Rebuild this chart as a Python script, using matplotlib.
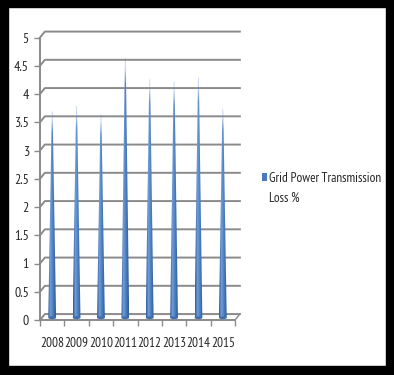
import numpy as np
import matplotlib
matplotlib.use("Agg")
import matplotlib.pyplot as plt
from matplotlib import font_manager
from matplotlib.patches import Polygon, Ellipse, Rectangle
from matplotlib.colors import to_rgb

# narrow humanist font, closest to the squeezed Calibri of the reference
available = set(f.name for f in font_manager.fontManager.ttflist)
font = 'DejaVu Sans'
for cand in ['PT Sans Narrow', 'Liberation Sans Narrow', 'Carlito', 'Liberation Sans']:
    if cand in available:
        font = cand
        break
plt.rcParams['font.family'] = [font, 'DejaVu Sans']

# Data
years = ['2008', '2009', '2010', '2011', '2012', '2013', '2014', '2015']
loss = [3.65, 3.75, 3.6, 4.6, 4.22, 4.18, 4.25, 3.7]
y_ticks = [0, 0.5, 1, 1.5, 2, 2.5, 3, 3.5, 4, 4.5, 5]
y_labels = ['0', '0.5', '1', '1.5', '2', '2.5', '3', '3.5', '4', '4.5', '5']
series_name = 'Grid Power Transmission\nLoss %'

grid_col = '#8a8a8a'
text_col = '#262626'
cone_col = '#4a7bbf'
fs = 9.5
# fake 3D depth, in data units
dx, dy = 0.2, 0.105

fig = plt.figure(figsize=(3.94, 3.75), dpi=100)
ax = fig.add_axes([40 / 394, 55 / 375, 195 / 394, 282.5 / 375])

n = len(years)
x = np.arange(n)

# back wall + side wall gridlines
for v in y_ticks:
    ax.plot([-0.5, -0.5 + dx, n - 0.5 + dx], [v, v + dy, v + dy],
            color=grid_col, lw=1.4, clip_on=False, zorder=1)
# floor right edge
ax.plot([n - 0.5, n - 0.5 + dx], [0, dy], color=grid_col, lw=1.0, clip_on=False, zorder=1)

# cone gradient (horizontal shading)
stops = [(0.0, '#2c5891'), (0.3, '#6f9fdc'), (0.55, '#5486c6'), (1.0, '#2d5a95')]
xs = np.linspace(0, 1, 40)
cols = np.array([[np.interp(t, [s[0] for s in stops], [to_rgb(s[1])[k] for s in stops])
                  for k in range(3)] for t in xs])

w = 0.32
tip = 0.035
base = 0.04
for xi, v in zip(x, loss):
    ys = np.linspace(0, 1, 120)
    alpha = np.clip((1 - ys) / 0.1, 0.35, 1.0)
    img = np.zeros((len(ys), len(xs), 4))
    img[:, :, :3] = cols[None, :, :]
    img[:, :, 3] = alpha[:, None]
    cone = Polygon([[xi - w / 2, base], [xi + w / 2, base],
                    [xi + tip / 2, base + v], [xi - tip / 2, base + v]],
                   closed=True, transform=ax.transData)
    im = ax.imshow(img, extent=(xi - w / 2, xi + w / 2, base, base + v),
                   origin='lower', aspect='auto', interpolation='bilinear', zorder=3)
    im.set_clip_path(cone)
    ax.add_patch(Ellipse((xi, base), w, 0.05, facecolor='#3f6fae', edgecolor='none', zorder=3))

ax.set_xlim(-0.5, n - 0.5)
ax.set_ylim(0, 5)

for side in ['top', 'right']:
    ax.spines[side].set_visible(False)
for side in ['left', 'bottom']:
    ax.spines[side].set_color(grid_col)
    ax.spines[side].set_linewidth(1.4)
ax.spines['left'].set_bounds(0, 5)

ax.set_yticks(y_ticks)
ax.set_yticklabels(y_labels)
ax.tick_params(axis='y', direction='out', length=4, width=1.0, color=grid_col,
               pad=4, labelsize=fs + 0.5, labelcolor=text_col)

ax.set_xticks(np.arange(n + 1) - 0.5)
ax.set_xticklabels([])
ax.tick_params(axis='x', which='major', direction='out', length=4, width=1.0, color=grid_col)
ax.set_xticks(x, minor=True)
ax.set_xticklabels(years, minor=True)
ax.tick_params(axis='x', which='minor', length=0, pad=12, labelsize=fs, labelcolor=text_col)

ax.set_facecolor('none')

# legend: marker level with the first line of the label
fig.patches.append(Rectangle((262 / 394, 1 - 181 / 375), 5 / 394, 8 / 375,
                             transform=fig.transFigure, facecolor=cone_col, edgecolor='none'))
fig.text(269 / 394, 1 - 171.5 / 375, series_name, ha='left', va='top', fontsize=fs,
         color=text_col, linespacing=1.75)

# black frame
fig.patches.append(Rectangle((0, 0), 8 / 394, 1, transform=fig.transFigure, color='black'))
fig.patches.append(Rectangle((386 / 394, 0), 8 / 394, 1, transform=fig.transFigure, color='black'))
fig.patches.append(Rectangle((0, 1 - 7 / 375), 1, 7 / 375, transform=fig.transFigure, color='black'))
fig.patches.append(Rectangle((0, 0), 1, 9 / 375, transform=fig.transFigure, color='black'))

fig.savefig('out.png', dpi=100)
